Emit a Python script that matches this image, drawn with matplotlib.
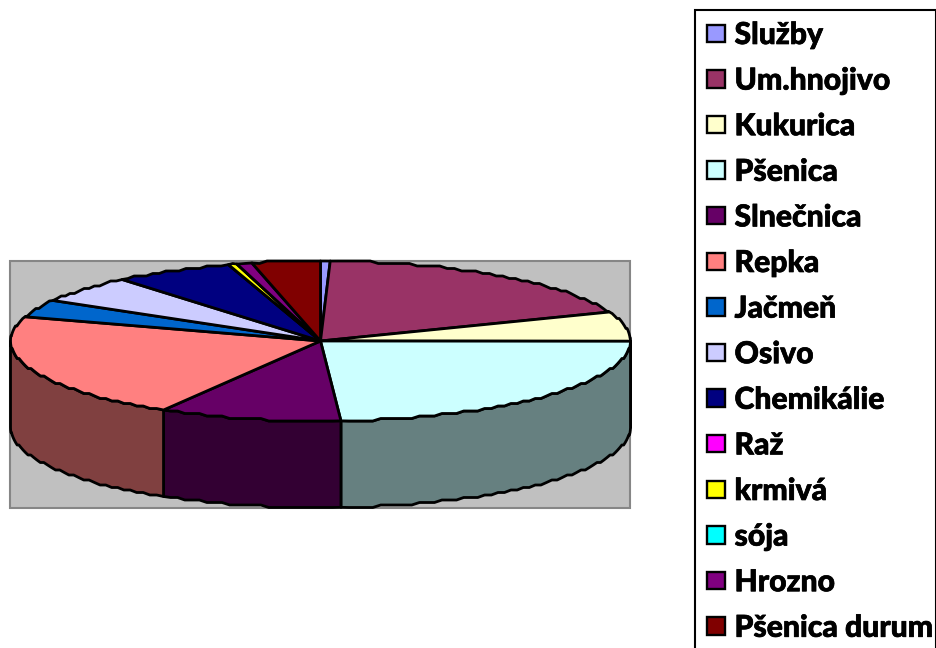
import numpy as np
import matplotlib
matplotlib.use("Agg")
import matplotlib.pyplot as plt
import matplotlib.patheffects as pe
from matplotlib.patches import Polygon, Rectangle

categories = ["Služby", "Um.hnojivo", "Kukurica", "Pšenica", "Slnečnica", "Repka", "Jačmeň",
              "Osivo", "Chemikálie", "Raž", "krmivá", "sója", "Hrozno", "Pšenica durum"]
values = [0.5, 18.6, 5.95, 23.9, 9.5, 21.45, 3.55, 5.5, 6.25, 0.0, 0.45, 0.0, 0.8, 3.55]
colors = ["#9999FF", "#993366", "#FFFFCC", "#CCFFFF", "#660066", "#FF8080", "#0066CC",
          "#CCCCFF", "#000080", "#FF00FF", "#FFFF00", "#00FFFF", "#800080", "#800000"]

CX, CY, RX, RY, DEPTH = 320.5, 341.0, 310.0, 80.0, 86.5
LW = 2.0
STEP = 2.5

fig = plt.figure(figsize=(9.37, 6.48), dpi=100, facecolor="white")
ax = fig.add_axes([0, 0, 1, 1])
ax.set_xlim(0, 937)
ax.set_ylim(648, 0)
ax.axis("off")

ax.add_patch(Rectangle((10.5, 261), 620, 247, fc="#C0C0C0", ec="#868686", lw=1.5, zorder=1))

def rim(a0, a1):
    n = max(2, int(abs(a1 - a0) / 1.5) + 2)
    deg = np.linspace(a0, a1, n)
    t = np.radians(deg)
    x = CX + RX * np.sin(t)
    y = CY - RY * np.cos(t)
    ys = CY + np.round((y - CY) / STEP) * STEP
    ys[0], ys[-1] = y[0], y[-1]
    return np.column_stack([x, ys])

def darken(hex_color, factor=0.5):
    return np.array(matplotlib.colors.to_rgb(hex_color)) * factor

vals = np.array(values, dtype=float)
edges = np.concatenate([[0], np.cumsum(vals)]) / vals.sum() * 360.0

for i, c in enumerate(colors):
    a0, a1 = max(edges[i], 90.0), min(edges[i + 1], 270.0)
    if a1 <= a0:
        continue
    top = rim(a0, a1)
    bottom = top[::-1] + np.array([0, DEPTH])
    ax.add_patch(Polygon(np.vstack([top, bottom]), closed=True, fc=darken(c), ec="black",
                         lw=LW, joinstyle="round", zorder=2))

for i, c in enumerate(colors):
    pts = np.vstack([[CX, CY], rim(edges[i], edges[i + 1])])
    ax.add_patch(Polygon(pts, closed=True, fc=c, ec="black", lw=LW, joinstyle="round", zorder=3))

ax.add_patch(Rectangle((695, 10), 241, 640, fc="white", ec="black", lw=1.5, zorder=1))
y0, dy = 33.5, 45.6
for i, (name, c) in enumerate(zip(categories, colors)):
    y = y0 + i * dy
    ax.add_patch(Rectangle((707.5, y - 9), 17.5, 17.5, fc=c, ec="black", lw=1.7, zorder=3))
    ax.text(734.5, y + 1.5, name, fontsize=21.7, fontweight=900, family="Lato",
            ha="left", va="center", color="black", zorder=3,
            path_effects=[pe.withStroke(linewidth=0.5, foreground="black")])

fig.savefig("out.png", dpi=100)
